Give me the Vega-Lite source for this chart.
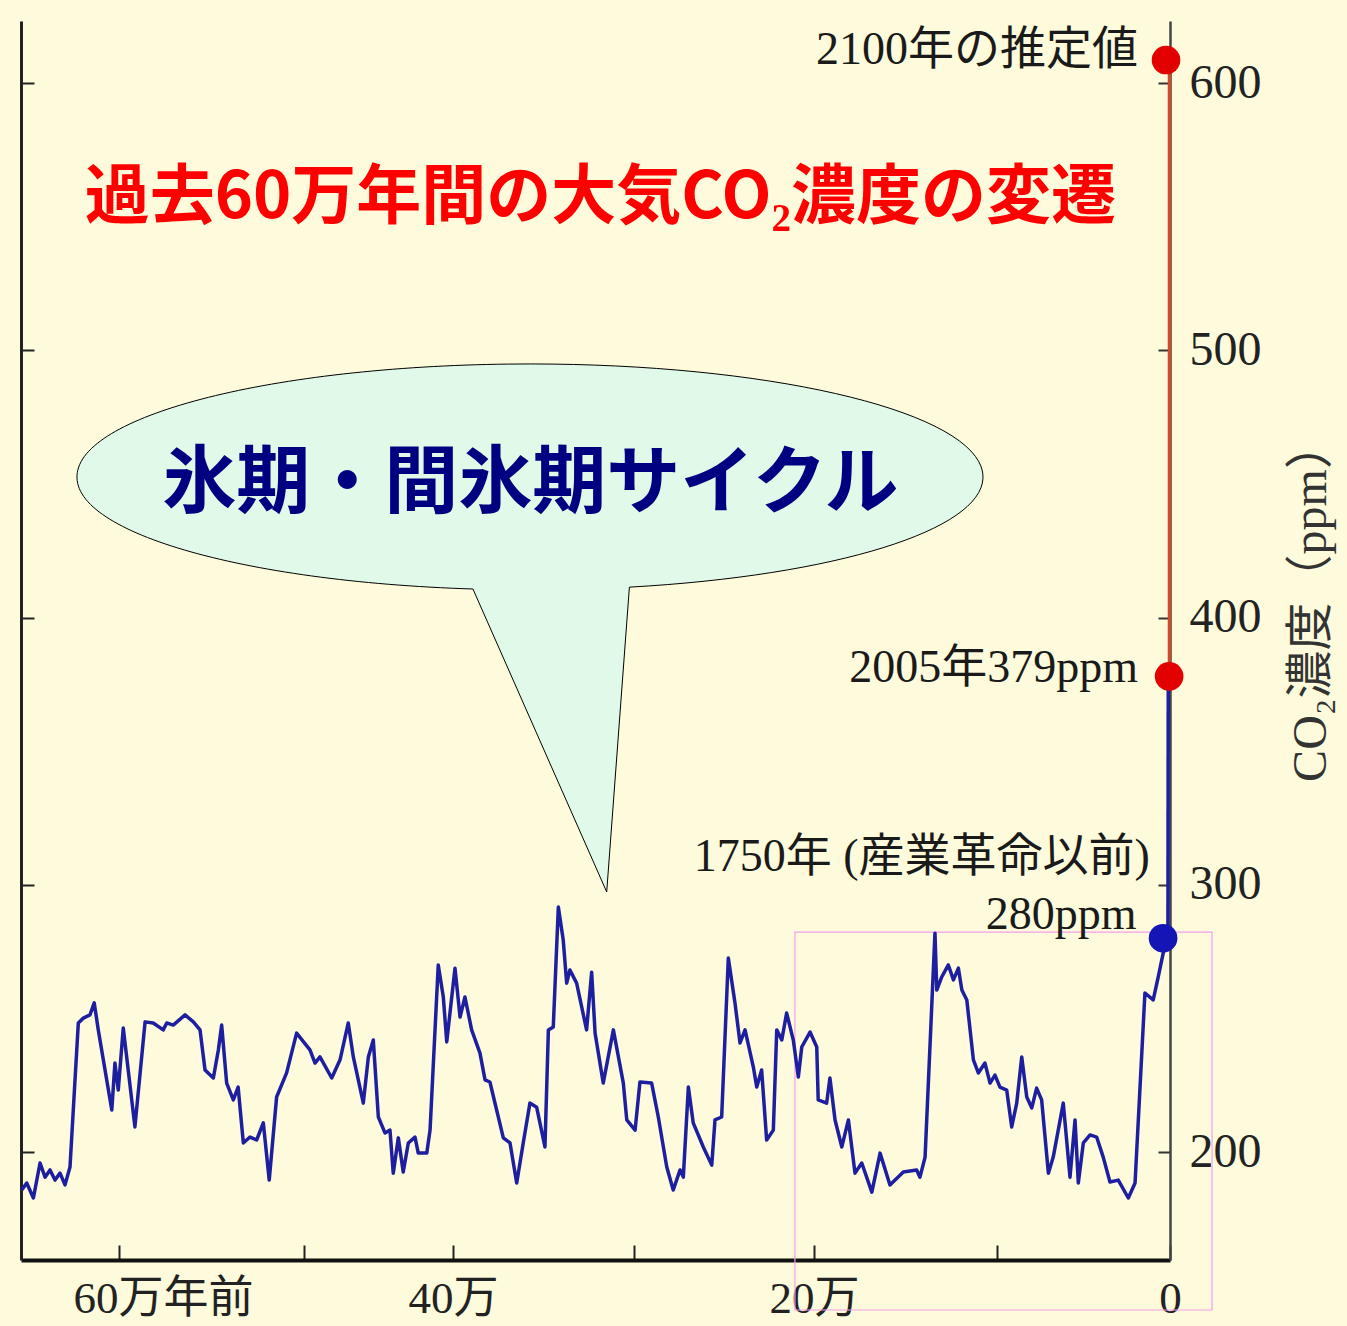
{
  "$schema": "https://vega.github.io/schema/vega-lite/v6.json",
  "width": 1149,
  "height": 1239,
  "autosize": {"type": "none"},
  "padding": {"left": 21, "top": 21, "right": 177, "bottom": 66},
  "background": "#fdfbdb",
  "config": {"view": {"stroke": null}, "axis": {"grid": false}},
  "datasets": {
    "co2": [
      {"kyr":652.6,"ppm":185.8},{"kyr":649.9,"ppm":188.4},{"kyr":646.3,"ppm":182.8},{"kyr":642.7,"ppm":195.9},{"kyr":640.0,"ppm":190.6},{"kyr":637.3,"ppm":193.3},{"kyr":634.6,"ppm":189.5},{"kyr":631.9,"ppm":192.1},{"kyr":629.2,"ppm":187.7},{"kyr":626.5,"ppm":194.4},
      {"kyr":622.0,"ppm":248.3},{"kyr":619.3,"ppm":250.1},{"kyr":615.7,"ppm":251.3},{"kyr":613.4,"ppm":255.8},{"kyr":611.2,"ppm":245.7},{"kyr":603.9,"ppm":215.7},{"kyr":602.2,"ppm":233.3},{"kyr":600.4,"ppm":223.2},{"kyr":597.7,"ppm":246.4},{"kyr":591.4,"ppm":209.4},
      {"kyr":585.9,"ppm":248.7},{"kyr":581.5,"ppm":248.3},{"kyr":576.1,"ppm":245.7},{"kyr":574.2,"ppm":248.3},{"kyr":570.7,"ppm":247.5},{"kyr":564.3,"ppm":251.3},{"kyr":559.8,"ppm":248.7},{"kyr":556.2,"ppm":245.7},{"kyr":553.5,"ppm":230.7},{"kyr":549.0,"ppm":227.7},
      {"kyr":546.3,"ppm":238.2},{"kyr":544.5,"ppm":247.5},{"kyr":541.8,"ppm":225.8},{"kyr":538.2,"ppm":219.5},{"kyr":535.6,"ppm":224.3},{"kyr":532.8,"ppm":203.4},{"kyr":529.2,"ppm":205.6},{"kyr":525.6,"ppm":204.5},{"kyr":522.0,"ppm":210.9},{"kyr":518.8,"ppm":189.5},
      {"kyr":514.8,"ppm":220.6},{"kyr":509.4,"ppm":229.6},{"kyr":504.0,"ppm":244.5},{"kyr":496.0,"ppm":238.2},{"kyr":492.6,"ppm":233.3},{"kyr":489.3,"ppm":235.6},{"kyr":481.4,"ppm":227.7},{"kyr":475.8,"ppm":234.5},{"kyr":470.3,"ppm":248.3},{"kyr":466.9,"ppm":235.6},
      {"kyr":460.2,"ppm":218.3},{"kyr":456.8,"ppm":235.6},{"kyr":453.5,"ppm":241.9},{"kyr":450.1,"ppm":213.1},{"kyr":445.6,"ppm":207.1},{"kyr":442.3,"ppm":208.2},{"kyr":440.1,"ppm":192.1},{"kyr":436.7,"ppm":205.3},{"kyr":433.4,"ppm":192.5},{"kyr":430.0,"ppm":203.4},
      {"kyr":425.5,"ppm":205.6},{"kyr":423.3,"ppm":199.6},{"kyr":417.6,"ppm":199.6},{"kyr":415.4,"ppm":208.2},{"kyr":409.9,"ppm":270.0},{"kyr":406.5,"ppm":258.0},{"kyr":404.2,"ppm":241.2},{"kyr":398.9,"ppm":268.8},{"kyr":396.1,"ppm":250.5},{"kyr":393.4,"ppm":258.0},
      {"kyr":389.7,"ppm":245.7},{"kyr":385.1,"ppm":237.0},{"kyr":382.3,"ppm":227.0},{"kyr":379.6,"ppm":226.2},{"kyr":372.2,"ppm":205.3},{"kyr":368.5,"ppm":203.4},{"kyr":364.8,"ppm":188.4},{"kyr":361.2,"ppm":203.4},{"kyr":357.5,"ppm":218.3},{"kyr":353.8,"ppm":216.8},
      {"kyr":349.2,"ppm":201.9},{"kyr":347.3,"ppm":245.7},{"kyr":344.6,"ppm":246.8},{"kyr":341.8,"ppm":291.7},{"kyr":339.1,"ppm":279.3},{"kyr":337.2,"ppm":263.2},{"kyr":335.4,"ppm":268.1},{"kyr":331.7,"ppm":263.2},{"kyr":326.2,"ppm":245.7},{"kyr":323.4,"ppm":267.3},
      {"kyr":321.5,"ppm":244.5},{"kyr":317.0,"ppm":225.8},{"kyr":311.4,"ppm":245.7},{"kyr":305.9,"ppm":225.8},{"kyr":304.0,"ppm":212.0},{"kyr":299.4,"ppm":208.2},{"kyr":296.7,"ppm":226.2},{"kyr":290.2,"ppm":225.8},{"kyr":286.5,"ppm":213.1},{"kyr":281.8,"ppm":194.4},
      {"kyr":278.2,"ppm":185.8},{"kyr":274.4,"ppm":193.3},{"kyr":272.6,"ppm":190.6},{"kyr":269.8,"ppm":224.3},{"kyr":267.1,"ppm":210.9},{"kyr":261.5,"ppm":201.9},{"kyr":256.8,"ppm":195.1},{"kyr":255.0,"ppm":212.0},{"kyr":251.3,"ppm":213.1},{"kyr":247.6,"ppm":272.6},
      {"kyr":243.9,"ppm":255.8},{"kyr":241.1,"ppm":240.8},{"kyr":238.3,"ppm":245.7},{"kyr":233.7,"ppm":231.8},{"kyr":231.8,"ppm":224.3},{"kyr":229.1,"ppm":230.7},{"kyr":226.3,"ppm":204.5},{"kyr":222.6,"ppm":208.2},{"kyr":220.7,"ppm":245.7},{"kyr":217.9,"ppm":241.9},
      {"kyr":215.2,"ppm":252.0},{"kyr":211.5,"ppm":241.9},{"kyr":208.7,"ppm":228.1},{"kyr":206.8,"ppm":239.3},{"kyr":202.2,"ppm":244.9},{"kyr":198.5,"ppm":239.3},{"kyr":197.7,"ppm":219.5},{"kyr":193.1,"ppm":218.3},{"kyr":191.3,"ppm":227.7},{"kyr":188.5,"ppm":212.0},
      {"kyr":184.8,"ppm":201.9},{"kyr":181.2,"ppm":212.0},{"kyr":177.6,"ppm":192.1},{"kyr":173.9,"ppm":195.9},{"kyr":168.4,"ppm":185.0},{"kyr":163.9,"ppm":199.6},{"kyr":158.5,"ppm":187.7},{"kyr":151.2,"ppm":192.5},{"kyr":143.9,"ppm":193.3},{"kyr":142.1,"ppm":190.6},
      {"kyr":139.3,"ppm":198.1},{"kyr":133.9,"ppm":281.9},{"kyr":132.9,"ppm":260.6},{"kyr":130.2,"ppm":265.5},{"kyr":126.6,"ppm":270.0},{"kyr":123.8,"ppm":264.4},{"kyr":121.1,"ppm":268.8},{"kyr":119.2,"ppm":260.6},{"kyr":116.5,"ppm":256.9},{"kyr":112.9,"ppm":234.5},
      {"kyr":110.2,"ppm":229.6},{"kyr":106.6,"ppm":233.3},{"kyr":103.8,"ppm":225.8},{"kyr":101.1,"ppm":228.8},{"kyr":98.3,"ppm":224.3},{"kyr":94.4,"ppm":223.2},{"kyr":91.5,"ppm":209.4},{"kyr":88.6,"ppm":218.3},{"kyr":85.7,"ppm":235.6},{"kyr":82.8,"ppm":220.6},
      {"kyr":79.9,"ppm":216.5},{"kyr":77.1,"ppm":223.9},{"kyr":74.2,"ppm":219.5},{"kyr":70.3,"ppm":192.1},{"kyr":67.5,"ppm":198.1},{"kyr":64.6,"ppm":208.2},{"kyr":61.7,"ppm":218.3},{"kyr":57.8,"ppm":190.6},{"kyr":54.9,"ppm":212.0},{"kyr":53.0,"ppm":188.4},
      {"kyr":50.1,"ppm":203.4},{"kyr":46.2,"ppm":206.4},{"kyr":42.4,"ppm":205.6},{"kyr":38.6,"ppm":198.1},{"kyr":34.7,"ppm":188.8},{"kyr":29.9,"ppm":189.5},{"kyr":24.1,"ppm":182.8},{"kyr":20.2,"ppm":188.4},{"kyr":14.5,"ppm":259.5},{"kyr":9.7,"ppm":256.9},
      {"kyr":6.8,"ppm":265.5},{"kyr":3.9,"ppm":274.5},{"kyr":1.2,"ppm":280.0}
    ],
    "modern": [
      {"seg":"b","i":1,"kyr":1.2,"ppm":280},
      {"seg":"b","i":2,"kyr":1.0,"ppm":378},
      {"seg":"r","i":3,"kyr":0.3,"ppm":378},
      {"seg":"r","i":4,"kyr":0.3,"ppm":609}
    ],
    "dots": [
      {"c":"r","kyr":2.3,"ppm":608.6},
      {"c":"r","kyr":0.5,"ppm":378},
      {"c":"b","kyr":4.0,"ppm":280}
    ],
    "notes": [
      {"t":"2100年の推定値","kyr":18.5,"ppm":612.3},
      {"t":"2005年379ppm","kyr":18.5,"ppm":381.1},
      {"t":"1750年 (産業革命以前)","kyr":11.6,"ppm":310.4},
      {"t":"280ppm","kyr":19.3,"ppm":288.7}
    ],
    "bubble": [{"kyr":357.5,"ppm":452.6}],
    "bubbletext": [{"t":"氷期・間氷期サイクル","kyr":357.2,"ppm":449.6}],
    "title": [{"t":"過去60万年間の大気CO₂濃度の変遷","kyr":318.6,"ppm":557.0}],
    "pink": [{"kyr":210.6,"kyr2":-24.3,"ppm":282.3,"ppm2":140.9}]
  },
  "encoding": {
    "x": {
      "field": "kyr",
      "type": "quantitative",
      "scale": {"domain": [653, 600, 500, 400, 300, 200, 100, 0], "range": [0, 98, 283, 432, 613, 793, 976, 1149], "nice": false, "zero": false},
      "axis": {
        "values": [600, 500, 400, 300, 200, 100, 0],
        "tickSize": -15,
        "tickWidth": 2,
        "tickColor": "#222222",
        "domainColor": "#111111",
        "domainWidth": 4,
        "labelExpr": "datum.value == 600 ? '60万年前' : datum.value == 400 ? '40万' : datum.value == 200 ? '20万' : datum.value == 0 ? '0' : ''",
        "labelFont": "Liberation Serif, Noto Sans CJK JP",
        "labelFontSize": 45,
        "labelColor": "#222222",
        "labelPadding": 31,
        "labelLimit": 600,
        "labelFlush": false,
        "labelOverlap": false,
        "labelOffset": {"condition": {"test": "datum.value == 600", "value": 44}, "value": 0},
        "title": null,
        "grid": false
      }
    }
  },
  "layer": [
    {
      "data": {"name": "pink"},
      "mark": {"type": "rect", "filled": false, "stroke": "#f4a0ee", "strokeWidth": 1.2, "clip": false},
      "encoding": {
        "x2": {"field": "kyr2"},
        "y": {"field": "ppm", "type": "quantitative", "scale": {"domain": [159.6, 623.2], "nice": false, "zero": false}, "axis": null},
        "y2": {"field": "ppm2"}
      }
    },
    {
      "data": {"name": "bubble"},
      "mark": {"type": "point", "shape": "M-0.1258,0.2474A1,0.2494,0,1,1,0.2196,0.2433L0.1695,0.9161Z", "size": 820836, "filled": true, "fill": "#e1f9e8", "stroke": "#000000", "strokeWidth": 1, "opacity": 1},
      "encoding": {
        "y": {"field": "ppm", "type": "quantitative", "scale": {"domain": [159.6, 623.2], "nice": false, "zero": false}, "axis": null}
      }
    },
    {
      "data": {"name": "bubbletext"},
      "mark": {"type": "text", "font": "Noto Sans CJK JP", "fontWeight": "bold", "fontSize": 74, "color": "#000080", "align": "center", "baseline": "middle"},
      "encoding": {
        "y": {"field": "ppm", "type": "quantitative", "scale": {"domain": [159.6, 623.2], "nice": false, "zero": false}, "axis": null},
        "text": {"field": "t"}
      }
    },
    {
      "data": {"name": "title"},
      "mark": {"type": "text", "font": "Noto Sans CJK JP", "fontWeight": "bold", "fontSize": 65, "color": "#ff0000", "align": "center", "baseline": "middle"},
      "encoding": {
        "y": {"field": "ppm", "type": "quantitative", "scale": {"domain": [159.6, 623.2], "nice": false, "zero": false}, "axis": null},
        "text": {"field": "t"}
      }
    },
    {
      "data": {"name": "co2"},
      "mark": {"type": "line", "color": "#1e1ea0", "strokeWidth": 3.5, "strokeJoin": "round"},
      "encoding": {
        "y": {
          "field": "ppm",
          "type": "quantitative",
          "scale": {"domain": [159.6, 623.2], "nice": false, "zero": false},
          "axis": {
            "orient": "right",
            "values": [200, 300, 400, 500, 600],
            "tickSize": -12,
            "tickWidth": 2,
            "tickColor": "#333333",
            "domainColor": "#444444",
            "domainWidth": 2.5,
            "labelFont": "Liberation Serif",
            "labelFontSize": 48,
            "labelColor": "#222222",
            "labelPadding": 31,
            "labelFlush": false,
            "labelBaseline": "middle",
            "title": "CO₂濃度（ppm）",
            "titleFont": "Liberation Serif, Noto Sans CJK JP",
            "titleFontSize": 48,
            "titleFontWeight": "normal",
            "titleColor": "#333333",
            "titleAngle": 270,
            "titleAlign": "center",
            "titleBaseline": "top",
            "titleX": 117,
            "titleY": 580,
            "grid": false
          }
        }
      }
    },
    {
      "data": {"name": "modern"},
      "mark": {"type": "line", "strokeWidth": 3.5},
      "encoding": {
        "y": {
          "field": "ppm",
          "type": "quantitative",
          "scale": {"domain": [159.6, 623.2], "nice": false, "zero": false},
          "axis": {
            "orient": "left",
            "values": [200, 300, 400, 500, 600],
            "labels": false,
            "title": null,
            "tickSize": -13,
            "tickWidth": 2,
            "tickColor": "#222222",
            "domainColor": "#222222",
            "domainWidth": 3,
            "grid": false
          }
        },
        "color": {"field": "seg", "type": "nominal", "scale": {"domain": ["b", "r"], "range": ["#1e1ea0", "#cc4b2b"]}, "legend": null},
        "order": {"field": "i"}
      }
    },
    {
      "data": {"name": "dots"},
      "mark": {"type": "circle", "size": 820, "opacity": 1},
      "encoding": {
        "y": {"field": "ppm", "type": "quantitative", "scale": {"domain": [159.6, 623.2], "nice": false, "zero": false}, "axis": null},
        "color": {"field": "c", "type": "nominal", "scale": {"domain": ["r", "b"], "range": ["#e20000", "#1515b5"]}, "legend": null}
      }
    },
    {
      "data": {"name": "notes"},
      "mark": {"type": "text", "font": "Liberation Serif, Noto Sans CJK JP", "fontSize": 46, "color": "#1a1a1a", "align": "right", "baseline": "middle"},
      "encoding": {
        "y": {"field": "ppm", "type": "quantitative", "scale": {"domain": [159.6, 623.2], "nice": false, "zero": false}, "axis": null},
        "text": {"field": "t"}
      }
    }
  ],
  "resolve": {"axis": {"y": "independent"}, "scale": {"color": "independent"}}
}
